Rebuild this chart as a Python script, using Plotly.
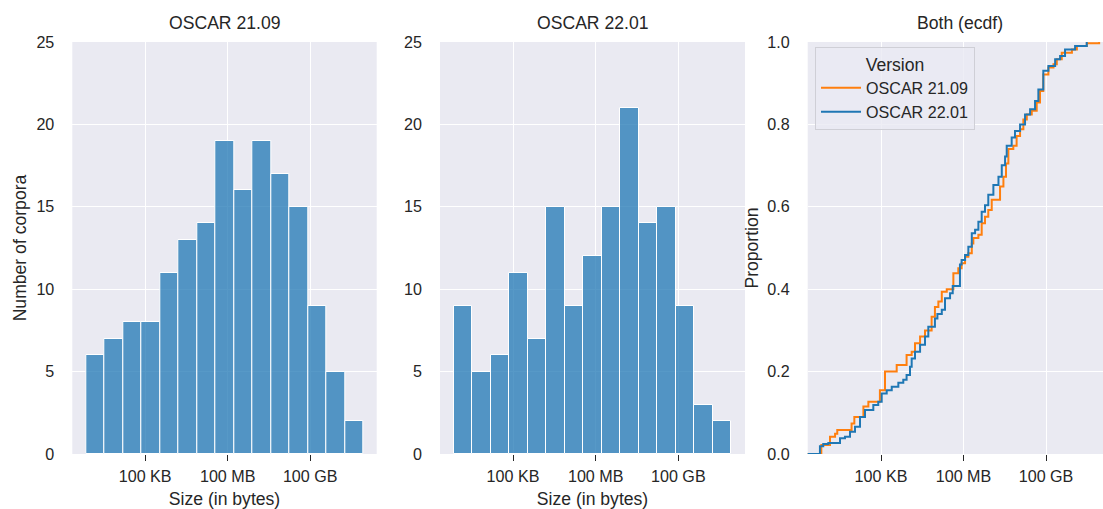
import numpy as np
import plotly.graph_objects as go

# ---------------- data (sizes as log10 of bytes) ----------------
versions = ["OSCAR 21.09", "OSCAR 22.01"]

hist_counts_2109 = [6, 7, 8, 8, 11, 13, 14, 19, 16, 19, 17, 15, 9, 5, 2]
hist_counts_2201 = [9, 5, 6, 11, 7, 15, 9, 12, 15, 21, 14, 15, 9, 3, 2]
hist_range_2109 = [2.855, 12.935]
hist_range_2201 = [2.844, 12.920]

ecdf_x_2109 = [2.83, 3.145, 3.33, 3.41, 3.93, 4.03, 4.36, 4.54, 4.96, 5.145, 5.57, 5.93,
               6.115, 6.236, 6.42, 6.6, 6.84, 6.96, 7.085, 7.21, 7.39, 7.63, 7.81, 7.93,
               8.055, 8.175, 8.30, 8.357, 8.54, 8.66, 8.78, 8.90, 9.025, 9.327, 9.45,
               9.545, 9.63, 9.81, 9.93, 10.055, 10.175, 10.30, 10.48, 10.66, 10.78, 10.90,
               11.085, 11.27, 11.39, 11.57, 11.94, 12.12, 12.48, 12.93]
ecdf_p_2109 = [0.022, 0.042, 0.049, 0.058, 0.074, 0.09, 0.115, 0.127, 0.155, 0.2, 0.216, 0.24,
               0.248, 0.269, 0.285, 0.30, 0.333, 0.357, 0.37, 0.394, 0.40, 0.439, 0.451, 0.463,
               0.479, 0.487, 0.511, 0.524, 0.532, 0.56, 0.576, 0.592, 0.617, 0.649, 0.673,
               0.705, 0.74, 0.748, 0.772, 0.788, 0.812, 0.824, 0.833, 0.853, 0.881, 0.921,
               0.938, 0.946, 0.958, 0.974, 0.982, 0.99, 0.997, 1.0]

ecdf_x_2201 = [2.78, 2.90, 3.084, 3.51, 3.69, 3.873, 4.055, 4.236, 4.418, 4.72, 4.90, 5.025,
               5.207, 5.39, 5.63, 5.81, 5.93, 6.055, 6.115, 6.236, 6.42, 6.6, 6.72, 6.96,
               7.05, 7.21, 7.327, 7.51, 7.607, 7.87, 7.93, 8.055, 8.175, 8.30, 8.42, 8.54,
               8.66, 8.78, 8.90, 9.085, 9.27, 9.39, 9.51, 9.57, 9.75, 9.87, 10.055, 10.236,
               10.42, 10.6, 10.72, 10.90, 11.085, 11.33, 11.51, 11.69, 12.055, 12.48]
ecdf_p_2201 = [0.019, 0.024, 0.027, 0.038, 0.042, 0.054, 0.066, 0.09, 0.107, 0.119, 0.127, 0.147,
               0.155, 0.163, 0.173, 0.18, 0.192, 0.212, 0.232, 0.248, 0.265, 0.285, 0.309, 0.329,
               0.34, 0.35, 0.378, 0.39, 0.408, 0.46, 0.471, 0.483, 0.503, 0.536, 0.544, 0.564,
               0.588, 0.604, 0.629, 0.653, 0.673, 0.701, 0.722, 0.748, 0.768, 0.784, 0.80, 0.824,
               0.837, 0.857, 0.885, 0.93, 0.942, 0.958, 0.966, 0.982, 0.99, 1.0]

size_tick_vals = [5, 8, 11]
size_tick_text = ["100 KB", "100 MB", "100 GB"]
count_tick_vals = [0, 5, 10, 15, 20, 25]
prop_tick_vals = [0.0, 0.2, 0.4, 0.6, 0.8, 1.0]
prop_tick_text = ["0.0", "0.2", "0.4", "0.6", "0.8", "1.0"]

# ---------------- styling ----------------
W, H = 1103, 509
FONT = "Liberation Sans, Arial, sans-serif"
TXT = "#262626"
BG = "#EAEAF2"
BAR = "rgba(31,119,180,0.75)"
ORANGE = "#ff7f0e"
BLUE = "#1f77b4"
TICK_FS = 16.1
LABEL_FS = 17.6

hist_xrange = [2.35, 13.42]
ecdf_xrange = [2.335, 13.07]

def px_x(p):
    return p / W

def px_y(p):
    return 1 - p / H

fig = go.Figure()

def add_hist(counts, rng, xa, ya):
    edges = np.linspace(rng[0], rng[1], len(counts) + 1)
    centers = (edges[:-1] + edges[1:]) / 2
    widths = np.diff(edges)
    fig.add_trace(go.Bar(
        x=centers, y=counts, width=widths,
        marker=dict(color=BAR, line=dict(color="white", width=1)),
        xaxis=xa, yaxis=ya, showlegend=False,
    ))

add_hist(hist_counts_2109, hist_range_2109, "x", "y")
add_hist(hist_counts_2201, hist_range_2201, "x2", "y2")

for name, xs, ps, col in [(versions[0], ecdf_x_2109, ecdf_p_2109, ORANGE),
                          (versions[1], ecdf_x_2201, ecdf_p_2201, BLUE)]:
    fig.add_trace(go.Scatter(
        x=[ecdf_xrange[0] - 1] + list(xs), y=[0.0] + list(ps),
        mode="lines", line=dict(color=col, width=2, shape="hv"),
        name=name, xaxis="x3", yaxis="y3",
    ))

dom_y = [px_y(454), px_y(42)]
doms_x = [[px_x(72.3), px_x(376.7)], [px_x(440), px_x(745)], [px_x(807.7), 1.0]]

common_x = dict(
    showgrid=True, gridcolor="white", gridwidth=1.2, zeroline=False, showline=False,
    tickmode="array", tickvals=size_tick_vals, ticktext=size_tick_text,
    ticks="outside", ticklen=6, tickwidth=1.2, tickcolor=TXT,
    tickfont=dict(family=FONT, size=TICK_FS, color=TXT), ticklabelstandoff=2,
    automargin=False, fixedrange=True,
)
common_y = dict(
    showgrid=True, gridcolor="white", gridwidth=1.2, zeroline=False, showline=False,
    ticks="", tickfont=dict(family=FONT, size=TICK_FS, color=TXT), ticklabelstandoff=17,
    automargin=False, fixedrange=True,
)

title_font = dict(family=FONT, size=LABEL_FS, color=TXT)

fig.update_layout(
    width=W, height=H,
    margin=dict(l=0, r=0, t=0, b=0),
    paper_bgcolor="white", plot_bgcolor=BG,
    font=dict(family=FONT, color=TXT),
    bargap=0,
    xaxis=dict(common_x, domain=doms_x[0], range=hist_xrange, anchor="y",
               title=dict(text="Size (in bytes)", font=title_font, standoff=19)),
    xaxis2=dict(common_x, domain=doms_x[1], range=hist_xrange, anchor="y2",
                title=dict(text="Size (in bytes)", font=title_font, standoff=19)),
    xaxis3=dict(common_x, domain=doms_x[2], range=ecdf_xrange, anchor="y3"),
    yaxis=dict(common_y, domain=dom_y, range=[0, 25], anchor="x",
               tickvals=count_tick_vals,
               title=dict(text="Number of corpora", font=title_font, standoff=5)),
    yaxis2=dict(common_y, domain=dom_y, range=[0, 25], anchor="x2",
                tickvals=count_tick_vals),
    yaxis3=dict(common_y, domain=dom_y, range=[0, 1.0], anchor="x3",
                tickmode="array", tickvals=prop_tick_vals, ticktext=prop_tick_text,
                title=dict(text="Proportion", font=title_font, standoff=4)),
    legend=dict(
        x=px_x(815), y=px_y(47), xanchor="left", yanchor="top",
        bgcolor="rgba(234,234,242,0.8)", bordercolor="#CFCFD6", borderwidth=1,
        font=dict(family=FONT, size=TICK_FS, color=TXT),
        title=dict(text="Version", side="top center",
                   font=dict(family=FONT, size=LABEL_FS, color=TXT)),
        itemwidth=40,
    ),
)

subtitles = ["OSCAR 21.09", "OSCAR 22.01", "Both (ecdf)"]
for i, t in enumerate(subtitles):
    d = doms_x[i]
    cx = (d[0] + d[1]) / 2 if i < 2 else (d[0] + (d[0] + 305 / W)) / 2
    fig.add_annotation(
        text=t, x=cx, y=px_y(23.5), xref="paper", yref="paper",
        xanchor="center", yanchor="middle", showarrow=False,
        font=dict(family=FONT, size=LABEL_FS, color=TXT),
    )

fig.write_html(
    "out.html",
    config={"displayModeBar": False},
    post_script="document.body.style.margin='0px';document.body.style.padding='0px';",
)
